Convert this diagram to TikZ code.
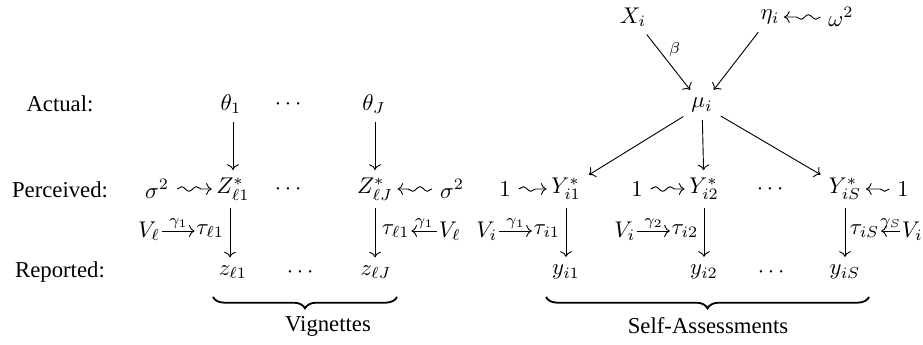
\documentclass[tikz,border=0pt]{standalone}
\usepackage{amsmath,amssymb}
\usepackage[no-math]{fontspec}
\setmainfont{Liberation Serif}
\usetikzlibrary{calc,arrows.meta,decorations.pathmorphing,decorations.pathreplacing}

\tikzset{
  sq/.style={->, shorten >=-1.5pt, decorate, decoration={snake, amplitude=1pt, segment length=6.5pt, post length=2.5pt}},
  tight/.style={inner sep=0.6pt},
  brc/.style={decorate, decoration={brace, mirror, amplitude=5pt}, line width=0.8pt},
}

\begin{document}
\begin{tikzpicture}[x=0.44pt, y=-0.44pt]
        \useasboundingbox (0,0) rectangle (923,345);
        % row labels
        \node (act) at (60,104) {Actual:};
        \node (perc) at (60,190) {Perceived:};
        \node (rep) at (60,272) {Reported:};
        % vignettes
        \node (th1) at (231,104) {$\theta_1$};
        \node (thdots) at (290,104) {$\cdots$};
        \node (thJ) at (374,104) {$\theta_J$};
        \node (Z1) at (233,189) {$Z^*_{\ell 1}$};
        \node (Zdots) at (290,189) {$\cdots$};
        \node (ZJ) at (375,189) {$Z^*_{\ell J}$};
        \node (sgL) at (157,189) {$\sigma^2$};
        \node (sgR) at (452,189) {$\sigma^2$};
        \node (z1) at (233,272) {$z_{\ell 1}$};
        \node (zdots) at (302,272) {$\cdots$};
        \node (zJ) at (376,272) {$z_{\ell J}$};
        \path[draw,->](th1.south -| Z1)to(Z1);
        \path[draw,->](thJ.south -| ZJ)to(ZJ);
        \path[draw,->](Z1.south -| 230,0)to(z1.north -| 230,0);
        \path[draw,->](ZJ.south -| 375,0)to(zJ.north -| 375,0);
        \draw[sq](sgL)to(Z1);
        \draw[sq](sgR)to(ZJ);
        \node[tight,anchor=east] (tauL1) at (226,231) {$\tau_{\ell 1}$};
        \node[tight,anchor=east] (VL1) at (162,231) {$V_\ell$};
        \node[tight,anchor=west] (tauLJ) at (380,231) {$\tau_{\ell 1}$};
        \node[tight,anchor=west] (VLJ) at (437,231) {$V_\ell$};
        \draw[->](VL1)to node[above,inner sep=1pt]{$\scriptstyle\gamma_1$}(tauL1);
        \draw[->](VLJ)to node[above,inner sep=1pt]{$\scriptstyle\gamma_1$}(tauLJ);
        % self-assessments
        \node (X) at (633,17) {$X_i$};
        \node (eta) at (770,17) {$\eta_i$};
        \node (om) at (841,17) {$\omega^2$};
        \node (mu) at (702,105) {$\mu_i$};
        \draw[->](X)to node[pos=0.45,above right,inner sep=1pt]{$\scriptstyle\beta$}(mu);
        \draw[->](eta)to(mu);
        \draw[sq](om)to(eta);
        \node (Y1) at (566,189) {$Y^*_{i1}$};
        \node (Y2) at (704,189) {$Y^*_{i2}$};
        \node (Ydots) at (772,189) {$\cdots$};
        \node (YS) at (845,189) {$Y^*_{iS}$};
        \node (one1) at (505,189) {$1$};
        \node (one2) at (637,189) {$1$};
        \node (oneS) at (903,189) {$1$};
        \draw[->](mu)to(Y1);
        \draw[->](mu)to(Y2);
        \draw[->](mu)to(YS);
        \draw[sq](one1)to(Y1);
        \draw[sq](one2)to(Y2);
        \draw[sq](oneS)to(YS);
        \node (y1) at (566,272) {$y_{i1}$};
        \node (y2) at (704,272) {$y_{i2}$};
        \node (ydots) at (773,272) {$\cdots$};
        \node (yS) at (845,272) {$y_{iS}$};
        \foreach \a/\b/\c in {Y1/y1/566,Y2/y2/704,YS/yS/845}
        {
            \path[draw,->](\a.south -| \c,0)to(\b.north -| \c,0);
        }
        \node[tight,anchor=east] (taui1) at (562,231) {$\tau_{i1}$};
        \node[tight,anchor=east] (Vi1) at (499,231) {$V_i$};
        \node[tight,anchor=east] (taui2) at (700,231) {$\tau_{i2}$};
        \node[tight,anchor=east] (Vi2) at (637,231) {$V_i$};
        \node[tight,anchor=west] (tauiS) at (848,231) {$\tau_{iS}$};
        \node[tight,anchor=west] (ViS) at (900,231) {$V_i$};
        \draw[->](Vi1)to node[above,inner sep=1pt]{$\scriptstyle\gamma_1$}(taui1);
        \draw[->](Vi2)to node[above,inner sep=1pt]{$\scriptstyle\gamma_2$}(taui2);
        \draw[->](ViS)to node[above,inner sep=1pt]{$\scriptstyle\gamma_S$}(tauiS);
        % braces
        \draw[brc](213,297)--(397,297);
        \draw[brc](546,297)--(869,297);
        \node (vig) at (328,326) {Vignettes};
        \node (sa) at (708,326) {Self-Assessments};
\end{tikzpicture}
\end{document}
